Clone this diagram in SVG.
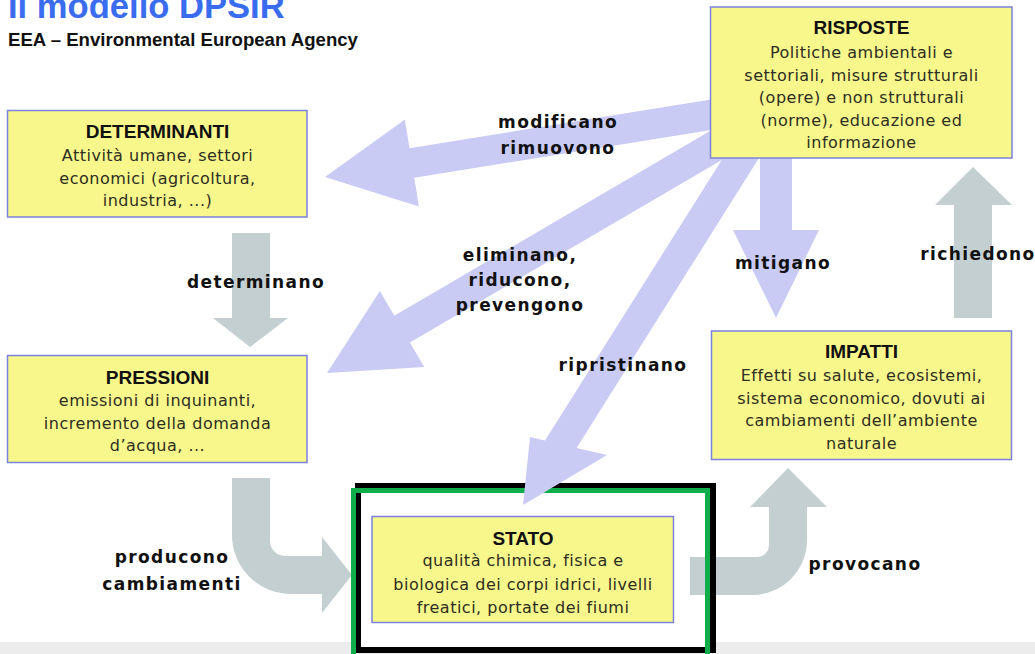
<svg xmlns="http://www.w3.org/2000/svg" width="1035" height="654" viewBox="0 0 1035 654">
<style>
.box{fill:#f7f78c;stroke:#7b82dc;stroke-width:1.5}
.ttl{font-family:"Liberation Sans",Arial,sans-serif;font-weight:bold;font-size:19px;fill:#111;text-anchor:middle}
.body{font-family:"DejaVu Sans",sans-serif;font-size:16px;letter-spacing:0.5px;fill:#2e2e22;text-anchor:middle}
.lbl{font-family:"DejaVu Sans",sans-serif;font-weight:bold;font-size:17px;letter-spacing:1.4px;fill:#111;text-anchor:middle}
.blue{fill:#c9cbf5}
.gray{fill:#c4cfd1}
</style>
<rect x="0" y="0" width="1035" height="654" fill="#ffffff"/>
<rect x="0" y="642" width="1035" height="12" fill="#ececec"/>
<text x="8" y="18" font-family="Liberation Sans, Arial, sans-serif" font-weight="bold" font-size="34.6" fill="#3a6cef">Il modello DPSIR</text>
<text x="8" y="46" font-family="Liberation Sans, Arial, sans-serif" font-weight="bold" font-size="18.6" fill="#111">EEA – Environmental European Agency</text>
<rect x="358" y="486" width="355" height="164" fill="#ffffff"/>
<g id="connectors">
<polygon class="gray" points="232,233 232,318 213,318 250,347 288,318 270,318 270,233"/>
<polygon class="gray" points="954,318 954,205 935,205 973,167 1012,205 992,205 992,318"/>
<path class="gray" d="M232,478 L232,535 A59,59 0 0 0 291,594 L322,594 L322,613 L352,575 L322,537 L322,556 L285,556 A15,15 0 0 1 270,541 L270,478 Z"/>
<path class="gray" d="M690,557 L757,557 A12,12 0 0 0 769,545 L769,507 L750,507 L788,468 L827,507 L807,507 L807,540 A55,55 0 0 1 752,595 L690,595 Z"/>
</g>
<g id="frame">
<rect x="358" y="486" width="355" height="164" fill="none" stroke="#000" stroke-width="6"/>
<rect x="353.5" y="490.5" width="354" height="200" fill="none" stroke="#0fae4a" stroke-width="5"/>
</g>
<g id="connectors-blue">
<polygon class="blue" points="732.6,96.1 409.5,148.2 404.9,119.6 325,177 418.9,206.4 414.3,177.8 737.4,125.7"/>
<polygon class="blue" points="739.5,113.7 394.3,315.7 379.9,291.1 327,373 424.3,367.1 409.9,342.5 755.1,140.5"/>
<polygon class="blue" points="734.3,140 545,440.5 530,437 523,505 607,455 576.6,448 770.3,140"/>
<polygon class="blue" points="760,150 760,230 733,230 776,318 819,230 792,230 792,150"/>
</g>
<g id="determinanti">
<rect class="box" x="7.5" y="110.5" width="299.5" height="106.5"/>
<text class="ttl" x="157.5" y="138">DETERMINANTI</text>
<text class="body" x="157.5" y="161">Attività umane, settori</text>
<text class="body" x="157.5" y="184">economici (agricoltura,</text>
<text class="body" x="157.5" y="206">industria, ...)</text>
</g>
<g id="risposte">
<rect class="box" x="710.5" y="7" width="301.5" height="151"/>
<text class="ttl" x="861.5" y="34">RISPOSTE</text>
<text class="body" x="861.5" y="58">Politiche ambientali e</text>
<text class="body" x="861.5" y="81">settoriali, misure strutturali</text>
<text class="body" x="861.5" y="103">(opere) e non strutturali</text>
<text class="body" x="861.5" y="126">(norme), educazione ed</text>
<text class="body" x="861.5" y="148">informazione</text>
</g>
<g id="pressioni">
<rect class="box" x="7.5" y="355.5" width="299.5" height="107"/>
<text class="ttl" x="157.5" y="384">PRESSIONI</text>
<text class="body" x="157.5" y="406">emissioni di inquinanti,</text>
<text class="body" x="157.5" y="429">incremento della domanda</text>
<text class="body" x="157.5" y="451">d’acqua, ...</text>
</g>
<g id="impatti">
<rect class="box" x="711.5" y="331" width="300" height="128.5"/>
<text class="ttl" x="861.5" y="358">IMPATTI</text>
<text class="body" x="861.5" y="381">Effetti su salute, ecosistemi,</text>
<text class="body" x="861.5" y="404">sistema economico, dovuti ai</text>
<text class="body" x="861.5" y="426">cambiamenti dell’ambiente</text>
<text class="body" x="861.5" y="449">naturale</text>
</g>
<g id="stato">
<rect class="box" x="372" y="516.5" width="301.5" height="106"/>
<text class="ttl" x="523" y="545">STATO</text>
<text class="body" x="523" y="566">qualità chimica, fisica e</text>
<text class="body" x="523" y="590">biologica dei corpi idrici, livelli</text>
<text class="body" x="523" y="613">freatici, portate dei fiumi</text>
</g>
<g id="labels">
<text class="lbl" x="256" y="288">determinano</text>
<text class="lbl" x="558" y="128">modificano</text>
<text class="lbl" x="558" y="154">rimuovono</text>
<text class="lbl" x="520" y="261">eliminano,</text>
<text class="lbl" x="520" y="286">riducono,</text>
<text class="lbl" x="520" y="311">prevengono</text>
<text class="lbl" x="623" y="371">ripristinano</text>
<text class="lbl" x="783" y="269">mitigano</text>
<text class="lbl" x="978" y="260">richiedono</text>
<text class="lbl" x="172" y="563">producono</text>
<text class="lbl" x="172" y="590">cambiamenti</text>
<text class="lbl" x="865" y="570">provocano</text>
</g>
</svg>
